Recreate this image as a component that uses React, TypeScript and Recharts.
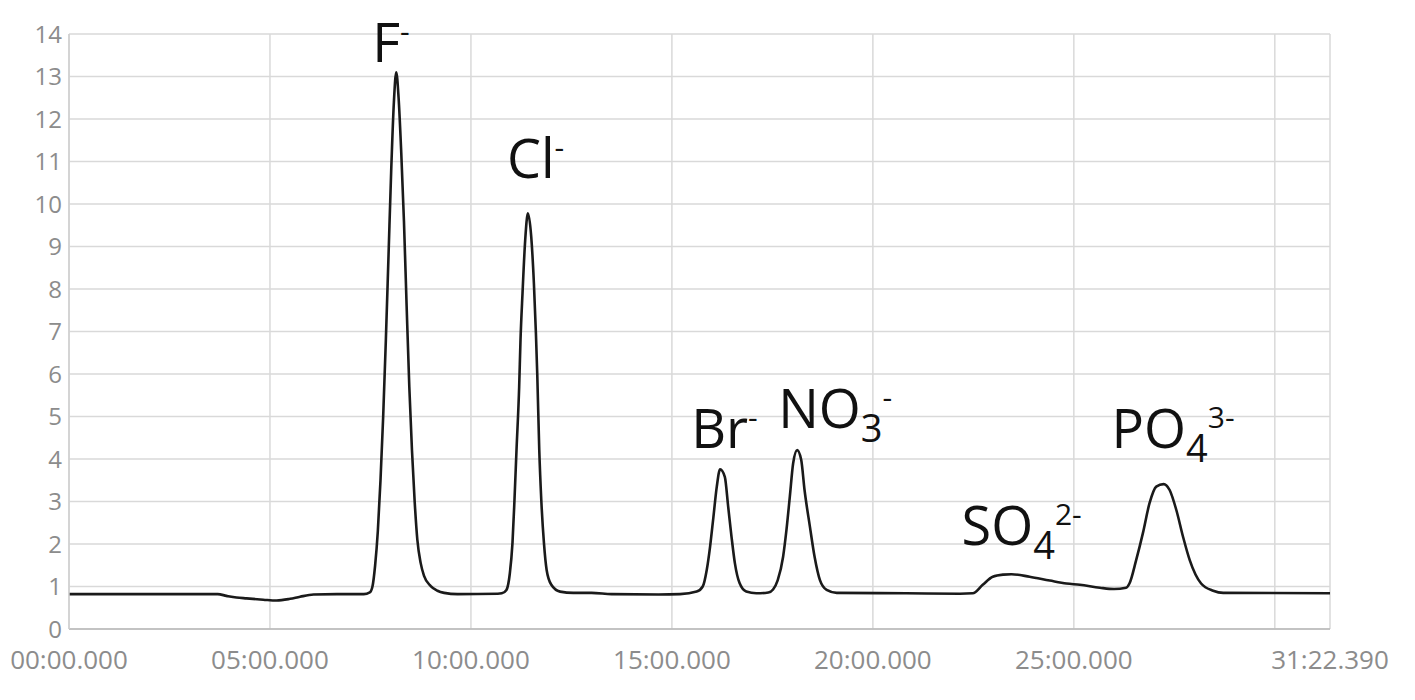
import React from 'react';
import { LineChart, Line, XAxis, YAxis, CartesianGrid, ReferenceDot } from 'recharts';

// retention time (s) and conductivity readings
const times = [
  0, 150, 222, 235, 250, 265, 290, 310, 330, 345, 365, 400, 440,
  449, 453, 457, 461, 465, 469, 473, 477, 481, 485, 488.5, 492, 496, 500, 504, 508, 512, 516, 520, 525, 530, 540, 550, 560, 580,
  640, 646, 653, 658, 662, 665, 668, 672, 674, 677, 681, 685, 690, 694, 697, 699, 702, 705, 709, 713, 720, 733, 753,
  780, 810, 880, 912,
  937, 946, 952, 957, 962, 967, 972, 979, 984, 989, 994, 1001, 1011, 1026, 1044,
  1051, 1058, 1066, 1071, 1076, 1081, 1087, 1093, 1098, 1106, 1113, 1121, 1131, 1146,
  1250, 1330, 1349, 1364, 1379, 1395, 1407, 1434, 1464, 1489, 1509, 1539, 1560, 1578,
  1583, 1593, 1603, 1613, 1623, 1634, 1643, 1653, 1663, 1673, 1690, 1708, 1723, 1882.39,
];
const signal = [
  0.82, 0.82, 0.82, 0.78, 0.74, 0.72, 0.69, 0.67, 0.71, 0.76, 0.81, 0.82, 0.82,
  0.86, 1.0, 1.5, 2.3, 3.5, 5.0, 6.8, 8.8, 10.8, 12.4, 13.1, 12.5, 11.2, 9.6, 7.6, 5.7, 4.2, 3.0, 2.1, 1.55, 1.25, 1.01, 0.9, 0.85, 0.82,
  0.83, 0.84, 0.92, 1.3, 2.02, 3.04, 4.2, 5.7, 6.8, 7.9, 9.15, 9.78, 9.23, 8.13, 6.96, 6.0, 4.21, 3.04, 2.02, 1.39, 1.04, 0.88, 0.85,
  0.85, 0.82, 0.81, 0.82,
  0.88, 1.0, 1.39, 1.94, 2.64, 3.35, 3.76, 3.58, 2.88, 2.17, 1.55, 1.08, 0.88, 0.84, 0.86,
  0.93, 1.15, 1.7, 2.33, 3.11, 3.9, 4.21, 3.98, 3.27, 2.41, 1.7, 1.15, 0.92, 0.85,
  0.84, 0.83, 0.84, 1.04, 1.23, 1.28, 1.29, 1.23, 1.14, 1.07, 1.04, 0.97, 0.94, 0.97,
  1.07, 1.62, 2.25, 2.96, 3.35, 3.41, 3.27, 2.8, 2.17, 1.62, 1.07, 0.9, 0.85, 0.84,
];

const xTicks = [0, 300, 600, 900, 1200, 1500, 1800, 1882.39];
const yTicks = [0, 1, 2, 3, 4, 5, 6, 7, 8, 9, 10, 11, 12, 13, 14];

// peak annotations
const peakTimes = [488.5, 685, 972, 1087, 1407, 1634];
const peakHeights = [13.1, 9.78, 3.76, 4.21, 1.29, 3.41];
const ionMain = ['F', 'Cl', 'Br', 'NO', 'SO', 'PO'];
const ionSub = ['', '', '', '3', '4', '4'];
const ionCharge = ['-', '-', '-', '-', '2-', '3-'];
const labelOffsets = [[-24, -10], [-21, -35], [-29, -21], [-19, -22], [-50, -29], [-52, -36]];

const data = times.map((t, i) => ({ t, v: signal[i] }));

const pad = (n: number, w: number) => String(n).padStart(w, '0');

function fmtTime(sec: number) {
  if (sec === 1800) return '';
  const ms = Math.round(sec * 1000);
  const m = Math.floor(ms / 60000);
  const s = Math.floor((ms % 60000) / 1000);
  return `${pad(m, 2)}:${pad(s, 2)}.${pad(ms % 1000, 3)}`;
}

function IonLabel({ cx, cy, i }: { cx?: number; cy?: number; i: number }) {
  if (cx == null || cy == null) return null;
  const [dx, dy] = labelOffsets[i];
  const hasSub = ionSub[i] !== '';
  return (
    <text x={cx + dx} y={cy + dy} fontSize={54} fontFamily="Open Sans" fill="#111">
      {ionMain[i]}
      {hasSub && (
        <tspan fontSize={38} dy={14}>
          {ionSub[i]}
        </tspan>
      )}
      <tspan fontSize={30} dy={hasSub ? -34 : -20}>
        {ionCharge[i]}
      </tspan>
    </text>
  );
}

const tickStyle = { fill: '#8c8c8c', fontSize: 24, fontFamily: 'Open Sans' };

export default function App() {
  return (
    <div style={{ position: 'absolute', left: 0, top: 0, width: 1415, height: 700, background: '#fff' }}>
      <LineChart width={1415} height={700} data={data} margin={{ top: 34, right: 85, left: 0, bottom: 31 }}>
        <CartesianGrid stroke="#d9d9d9" strokeWidth={1.5} />
        <XAxis
          dataKey="t"
          type="number"
          domain={[0, 1882.39]}
          ticks={xTicks}
          interval={0}
          tickFormatter={fmtTime}
          tick={{ ...tickStyle, fontSize: 26 }}
          tickLine={false}
          tickSize={0}
          tickMargin={22}
          height={40}
          axisLine={{ stroke: '#b8b8b8', strokeWidth: 1.5 }}
        />
        <YAxis
          type="number"
          domain={[0, 14]}
          ticks={yTicks}
          interval={0}
          tick={tickStyle}
          tickLine={false}
          tickSize={0}
          tickMargin={7}
          width={69}
          axisLine={{ stroke: '#cfcfcf', strokeWidth: 1.5 }}
        />
        <Line
          type="monotone"
          dataKey="v"
          stroke="#1a1a1a"
          strokeWidth={2.6}
          dot={false}
          isAnimationActive={false}
        />
        {peakTimes.map((t, i) => (
          <ReferenceDot
            key={ionMain[i]}
            x={t}
            y={peakHeights[i]}
            r={0}
            shape={(p: any) => <IonLabel cx={p.cx} cy={p.cy} i={i} />}
          />
        ))}
      </LineChart>
    </div>
  );
}
